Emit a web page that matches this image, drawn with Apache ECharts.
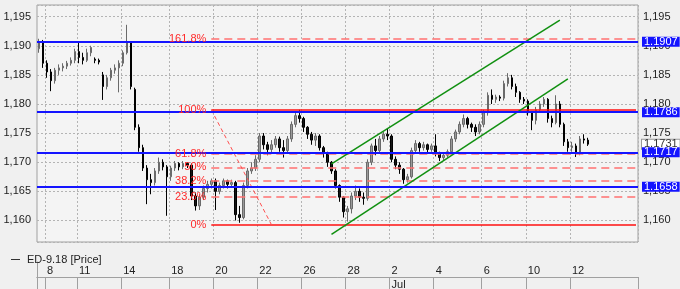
<!DOCTYPE html>
<html><head><meta charset="utf-8">
<script src="https://cdn.jsdelivr.net/npm/echarts@6/dist/echarts.min.js"></script>
<style>html,body{margin:0;padding:0;background:#f0f0f0}#c{width:680px;height:289px}</style>
</head><body><div id="c"></div>
<script>
// ---- data ----
const opens = [1.1895,1.1905,1.1870,1.1855,1.1840,1.1858,1.1862,1.1865,1.1870,1.1875,1.1890,1.1880,1.1875,1.1888,1.1877,1.1875,1.1850,1.1830,1.1845,1.1858,
1.1862,1.1870,1.1888,1.1905,1.1825,1.1760,1.1725,1.1690,1.1670,1.1665,1.1685,1.1700,1.1692,1.1675,1.1690,1.1698,1.1692,1.1698,1.1695,1.1642,
1.1625,1.1640,1.1655,1.1662,1.1668,1.1650,1.1660,1.1668,1.1662,1.1665,1.1610,1.1605,1.1660,1.1685,1.1690,1.1705,1.1745,1.1730,1.1722,1.1730,
1.1740,1.1725,1.1720,1.1740,1.1765,1.1780,1.1775,1.1760,1.1748,1.1738,1.1745,1.1725,1.1715,1.1700,1.1685,1.1660,1.1640,1.1615,1.1620,1.1642,
1.1650,1.1640,1.1638,1.1700,1.1728,1.1720,1.1740,1.1748,1.1745,1.1705,1.1695,1.1688,1.1670,1.1675,1.1720,1.1732,1.1725,1.1730,1.1722,1.1728,
1.1715,1.1708,1.1712,1.1718,1.1740,1.1752,1.1765,1.1775,1.1765,1.1760,1.1752,1.1765,1.1785,1.1815,1.1808,1.1812,1.1810,1.1835,1.1845,1.1830,
1.1820,1.1808,1.1805,1.1785,1.1772,1.1790,1.1800,1.1808,1.1775,1.1768,1.1800,1.1765,1.1735,1.1725,1.1728,1.1715,1.1740,1.1738];
const closes = [1.1905,1.1870,1.1855,1.1840,1.1858,1.1862,1.1865,1.1870,1.1875,1.1890,1.1880,1.1875,1.1888,1.1897,1.1875,1.1872,1.1830,1.1845,1.1858,1.1862,
1.1870,1.1888,1.1905,1.1830,1.1760,1.1725,1.1690,1.1670,1.1665,1.1685,1.1700,1.1692,1.1675,1.1690,1.1698,1.1692,1.1698,1.1695,1.1642,1.1625,
1.1640,1.1655,1.1662,1.1668,1.1650,1.1660,1.1668,1.1662,1.1665,1.1610,1.1605,1.1660,1.1685,1.1690,1.1705,1.1745,1.1730,1.1722,1.1730,1.1740,
1.1725,1.1720,1.1740,1.1765,1.1780,1.1775,1.1760,1.1748,1.1738,1.1745,1.1725,1.1715,1.1700,1.1685,1.1660,1.1640,1.1615,1.1620,1.1642,1.1650,
1.1640,1.1638,1.1700,1.1728,1.1720,1.1740,1.1748,1.1745,1.1705,1.1695,1.1688,1.1670,1.1675,1.1720,1.1732,1.1725,1.1730,1.1722,1.1728,1.1715,
1.1708,1.1712,1.1718,1.1740,1.1752,1.1765,1.1775,1.1765,1.1760,1.1752,1.1765,1.1785,1.1815,1.1808,1.1812,1.1810,1.1835,1.1845,1.1830,1.1820,
1.1808,1.1805,1.1785,1.1772,1.1790,1.1800,1.1808,1.1775,1.1768,1.1800,1.1765,1.1735,1.1725,1.1728,1.1715,1.1740,1.1738,1.1731];
const lows = [1.1888,1.1862,1.1845,1.1822,1.1835,1.1850,1.1856,1.1860,1.1866,1.1870,1.1870,1.1868,1.1872,1.1882,1.1870,1.1868,1.1807,1.1825,1.1840,1.1852,
1.1820,1.1865,1.1885,1.1825,1.1755,1.1718,1.1685,1.1628,1.1645,1.1660,1.1680,1.1686,1.1608,1.1668,1.1685,1.1686,1.1688,1.1690,1.1635,1.1617,
1.1618,1.1635,1.1648,1.1655,1.1618,1.1645,1.1655,1.1655,1.1658,1.1600,1.1596,1.1602,1.1655,1.1680,1.1685,1.1700,1.1722,1.1712,1.1715,1.1725,
1.1718,1.1708,1.1715,1.1735,1.1760,1.1768,1.1752,1.1740,1.1730,1.1728,1.1720,1.1708,1.1692,1.1680,1.1655,1.1632,1.1605,1.1598,1.1612,1.1635,
1.1632,1.1627,1.1634,1.1695,1.1712,1.1715,1.1735,1.1738,1.1700,1.1688,1.1680,1.1663,1.1665,1.1672,1.1715,1.1718,1.1720,1.1715,1.1718,1.1710,
1.1702,1.1704,1.1708,1.1715,1.1735,1.1748,1.1760,1.1758,1.1752,1.1745,1.1748,1.1760,1.1780,1.1800,1.1802,1.1805,1.1806,1.1830,1.1825,1.1812,
1.1802,1.1800,1.1780,1.1755,1.1765,1.1785,1.1795,1.1768,1.1760,1.1765,1.1760,1.1728,1.1718,1.1718,1.1709,1.1712,1.1732,1.1728];
const highs = [1.1912,1.1910,1.1875,1.1860,1.1862,1.1868,1.1870,1.1874,1.1880,1.1895,1.1907,1.1888,1.1895,1.1900,1.1880,1.1878,1.1855,1.1850,1.1862,1.1868,
1.1875,1.1892,1.1936,1.1908,1.1828,1.1765,1.1730,1.1695,1.1680,1.1690,1.1708,1.1705,1.1695,1.1694,1.1702,1.1700,1.1702,1.1700,1.1698,1.1648,
1.1645,1.1660,1.1668,1.1672,1.1672,1.1665,1.1672,1.1670,1.1670,1.1668,1.1625,1.1665,1.1690,1.1700,1.1712,1.1750,1.1750,1.1735,1.1738,1.1745,
1.1744,1.1738,1.1745,1.1770,1.1785,1.1790,1.1778,1.1762,1.1752,1.1750,1.1748,1.1728,1.1718,1.1702,1.1688,1.1662,1.1642,1.1625,1.1648,1.1660,
1.1655,1.1648,1.1705,1.1732,1.1740,1.1745,1.1752,1.1758,1.1748,1.1710,1.1700,1.1690,1.1680,1.1725,1.1738,1.1735,1.1735,1.1732,1.1732,1.1748,
1.1718,1.1716,1.1722,1.1745,1.1756,1.1770,1.1782,1.1778,1.1768,1.1765,1.1770,1.1790,1.1820,1.1825,1.1816,1.1815,1.1840,1.1853,1.1850,1.1835,
1.1822,1.1812,1.1808,1.1788,1.1795,1.1805,1.1812,1.1810,1.1780,1.1815,1.1805,1.1768,1.1740,1.1735,1.1732,1.1745,1.1748,1.1742];
const slotCount = 150;
const dateTickIdx = [2,10,21,33,44,55,66,77,88,99,111,122,133];
const dateTickLabels = ['8','11','14','18','20','22','26','28','2','4','6','10','12'];
const monthTickIdx = [88];
const monthLabels = ['Jul'];
const priceLines = [1.1907, 1.1786, 1.1717, 1.1658];
const lastPrice = 1.1731;
const fibLevels = [1.1912, 1.1790, 1.1715, 1.1691, 1.1668, 1.1640, 1.1593];
const fibLabels = ['161.8%','100%','61.8%','50%','38.2%','23.6%','0%'];
const fibStartIdx = 43, fibEndIdx = 149;
const fibSwing = [[43, 1.1790], [58, 1.1593]];
const channelUpper = [[73, 1.1697], [130, 1.1944]];
const channelLower = [[73, 1.1576], [132, 1.1843]];
const seriesName = 'ED-9.18 [Price]';

// ---- build ----
const slots = Array.from({length: slotCount}, (_, i) => String(i));
const ohlc = opens.map((o, i) => [o, closes[i], lows[i], highs[i]]);
const FONT = "'Liberation Sans', Arial, sans-serif";
const fmtPrice = v => {
  if (Math.abs(v * 200 - Math.round(v * 200)) > 1e-6) return '';
  return v.toFixed(3).replace('.', ',');
};
const solidFib = ['100%', '0%'];
const markData = [];
fibLevels.forEach((v, k) => {
  const solid = solidFib.includes(fibLabels[k]);
  markData.push([
    {coord: [fibStartIdx, v],
     lineStyle: solid ? {color: '#ff1010', width: 1.5, type: 'solid'} : {color: '#ff7070', width: 1.5, type: [8, 5]},
     label: {show: true, position: 'start', formatter: fibLabels[k], color: '#ff2a2a', fontSize: 11, fontFamily: FONT, distance: 5}},
    {coord: [fibEndIdx, v]}
  ]);
});
markData.push([{coord: fibSwing[0], lineStyle: {color: '#ff5050', width: 1, type: [4, 3]}, label: {show: false}}, {coord: fibSwing[1]}]);
[channelUpper, channelLower].forEach(c => markData.push([
  {coord: c[0], lineStyle: {color: '#109010', width: 1.5, type: 'solid'}, label: {show: false}}, {coord: c[1]}
]));
markData.push({
  yAxis: lastPrice,
  lineStyle: {color: 'rgba(0,0,0,0)', width: 1},
  label: {show: true, position: 'end', formatter: lastPrice.toFixed(4), color: '#333',
    backgroundColor: '#ffffff', borderColor: '#999', borderWidth: 1, padding: [0, 2], lineHeight: 9, fontSize: 11, fontFamily: FONT, distance: 4}
});
priceLines.forEach(v => markData.push({
  yAxis: v,
  lineStyle: {color: '#1414ff', width: 2, type: 'solid'},
  label: {show: true, position: 'end', formatter: v.toFixed(4), color: '#fff',
    backgroundColor: '#1414ff', padding: [0, 2], lineHeight: 10, fontSize: 11, fontFamily: FONT, distance: 4}
}));

const grey = '#a0a0a0';
const option = {
  animation: false,
  backgroundColor: '#f0f0f0',
  textStyle: {fontFamily: FONT},
  legend: {
    left: 6, top: 249, itemWidth: 9, itemHeight: 1, itemGap: 4,
    data: [{name: seriesName, icon: 'rect', itemStyle: {color: '#333', borderWidth: 0}}],
    textStyle: {fontSize: 11, color: '#222', fontFamily: FONT, padding: [0, 0, 0, 2]}
  },
  grid: [
    {left: 37, right: 42, top: 5, bottom: 47, show: true, borderColor: grey, borderWidth: 1, backgroundColor: '#f4f4f4'},
    {left: 37, right: 42, top: 262, height: 15},
    {left: 37, right: 42, top: 277, height: 12}
  ],
  xAxis: [
    {type: 'category', data: slots, gridIndex: 0, boundaryGap: true,
     axisLine: {show: false}, axisTick: {show: false}, axisLabel: {show: false},
     splitLine: {show: true, interval: (i) => dateTickIdx.includes(i), lineStyle: {color: '#b4b4b4', type: [2, 2], width: 1}}},
    {type: 'category', data: slots, gridIndex: 1, boundaryGap: true, position: 'top',
     axisLine: {show: true, lineStyle: {color: grey}},
     axisTick: {show: true, inside: true, length: 15, interval: (i) => dateTickIdx.includes(i), lineStyle: {color: grey}},
     axisLabel: {show: true, inside: true, margin: 3, align: 'left', interval: (i) => dateTickIdx.includes(i),
       formatter: (v, i) => { const k = dateTickIdx.indexOf(i); return k >= 0 ? dateTickLabels[k] : ''; },
       fontSize: 11, color: '#222', fontFamily: FONT},
     splitLine: {show: false}},
    {type: 'category', data: slots, gridIndex: 1, boundaryGap: true, position: 'bottom',
     axisLine: {show: true, lineStyle: {color: grey}}, axisTick: {show: false}, axisLabel: {show: false}},
    {type: 'category', data: slots, gridIndex: 2, boundaryGap: true, position: 'top',
     axisLine: {show: false},
     axisTick: {show: true, inside: true, length: 12, interval: (i) => monthTickIdx.includes(i), lineStyle: {color: grey}},
     axisLabel: {show: true, inside: true, margin: 2, align: 'left', interval: (i) => monthTickIdx.includes(i),
       formatter: (v, i) => { const k = monthTickIdx.indexOf(i); return k >= 0 ? monthLabels[k] : ''; },
       fontSize: 11, color: '#222', fontFamily: FONT}}
  ],
  yAxis: [
    {type: 'value', gridIndex: 0, min: 1.1563, max: 1.1970, splitNumber: 8, position: 'left',
     axisLine: {show: false}, axisTick: {show: false},
     axisLabel: {formatter: fmtPrice, fontSize: 11, color: '#222', margin: 6, fontFamily: FONT},
     splitLine: {show: true, lineStyle: {color: '#b4b4b4', type: [2, 2]}}},
    {type: 'value', gridIndex: 0, min: 1.1563, max: 1.1970, splitNumber: 8, position: 'right',
     axisLine: {show: false}, axisTick: {show: false},
     axisLabel: {formatter: fmtPrice, fontSize: 11, color: '#222', margin: 5, fontFamily: FONT},
     splitLine: {show: false}},
    {type: 'value', gridIndex: 1, min: 0, max: 1, axisLine: {show: true, lineStyle: {color: grey}},
     axisTick: {show: false}, axisLabel: {show: false}, splitLine: {show: false}},
    {type: 'value', gridIndex: 2, min: 0, max: 1, axisLine: {show: true, lineStyle: {color: grey}},
     axisTick: {show: false}, axisLabel: {show: false}, splitLine: {show: false}}
  ],
  series: [{
    name: seriesName, type: 'candlestick', xAxisIndex: 0, yAxisIndex: 0,
    data: ohlc, barWidth: 2,
    itemStyle: {color: '#9a9a9a', color0: '#151515', borderColor: '#6a6a6a', borderColor0: '#000', borderWidth: 1},
    markLine: {silent: true, precision: 4, symbol: ['none', 'none'], animation: false, data: markData}
  }]
};
const chart = echarts.init(document.getElementById('c'), null, {renderer: 'canvas'});
chart.setOption(option);
</script></body></html>
